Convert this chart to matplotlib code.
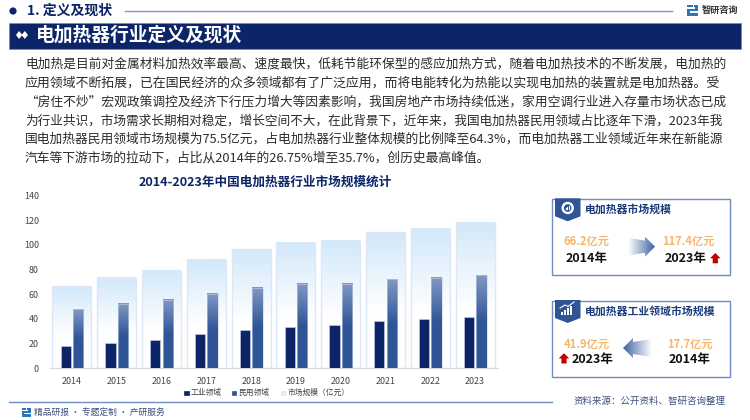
"""Electric heater industry slide: text block, market size chart, two callout cards."""

import numpy as np
import matplotlib
matplotlib.use('Agg')
import matplotlib.pyplot as plt
from matplotlib.patches import Rectangle, Polygon, Circle

plt.rcParams['font.family'] = ['Noto Sans CJK SC', 'DejaVu Sans']

NAVY = '#0B2568'
MID = '#2F5597'
EDGE = '#6F8DBE'
ORANGE = '#F9B66B'
RED = '#C00000'
TEXT = '#2B2B2B'

years = ['2014', '2015', '2016', '2017', '2018', '2019', '2020', '2021', '2022', '2023']
industrial = [17.7, 20.5, 23.2, 27.5, 31.3, 33.7, 34.8, 38.3, 39.9, 41.9]
civil = [48.0, 52.0, 55.5, 60.0, 65.0, 68.0, 68.6, 72.2, 73.0, 75.5]
market = [66.2, 72.9, 78.8, 87.7, 96.6, 101.7, 103.1, 110.3, 113.1, 117.4]
y_ticks = [0, 20, 40, 60, 80, 100, 120, 140]

body_lines = [
    '电加热是目前对金属材料加热效率最高、速度最快，低耗节能环保型的感应加热方式，随着电加热技术的不断发展，电加热的',
    '应用领域不断拓展，已在国民经济的众多领域都有了广泛应用，而将电能转化为热能以实现电加热的装置就是电加热器。受',
    '“房住不炒”宏观政策调控及经济下行压力增大等因素影响，我国房地产市场持续低迷，家用空调行业进入存量市场状态已成',
    '为行业共识，市场需求长期相对稳定，增长空间不大，在此背景下，近年来，我国电加热器民用领域占比逐年下滑，2023年我',
    '国电加热器民用领域市场规模为75.5亿元，占电加热器行业整体规模的比例降至64.3%，而电加热器工业领域近年来在新能源',
    '汽车等下游市场的拉动下，占比从2014年的26.75%增至35.7%，创历史最高峰值。',
]

fig = plt.figure(figsize=(7.5, 4.2), dpi=100, facecolor='white')

# full-figure overlay in pixel coordinates
bg = fig.add_axes([0, 0, 1, 1], zorder=0)
bg.set_xlim(0, 750)
bg.set_ylim(420, 0)
bg.axis('off')


def gradient(ax, x0, x1, y0, y1, c0, c1, horizontal=False, clip=None, z=2):
    """Linear colour ramp from c0 to c1, optionally clipped to a patch."""
    c0 = np.array(matplotlib.colors.to_rgb(c0))
    c1 = np.array(matplotlib.colors.to_rgb(c1))
    t = np.linspace(0, 1, 64)
    ramp = c0[None, :] * (1 - t[:, None]) + c1[None, :] * t[:, None]
    img = ramp[None, :, :] if horizontal else ramp[:, None, :]
    xl, yl = ax.get_xlim(), ax.get_ylim()
    im = ax.imshow(img, extent=(x0, x1, y1, y0), origin='upper', aspect='auto',
                   zorder=z, interpolation='bilinear')
    if clip is not None:
        im.set_clip_path(clip)
    ax.set_xlim(xl)
    ax.set_ylim(yl)
    return im


def logo(x, y, s):
    """Small square-spiral brand mark."""
    bg.add_patch(Rectangle((x, y), s, s, fc='#2E75B6', ec='none'))
    bg.add_patch(Rectangle((x, y + s * 0.2), s * 0.72, s * 0.16, fc='white', ec='none'))
    bg.add_patch(Rectangle((x + s * 0.28, y + s * 0.56), s * 0.72, s * 0.16, fc='white', ec='none'))
    bg.add_patch(Rectangle((x + s * 0.5, y), s * 0.12, s * 0.2, fc='white', ec='none'))


# ---- header ----
bg.add_patch(Circle((13, 11), 3.6, fc=NAVY, ec='none'))
bg.text(27, 10.5, '1. 定义及现状', fontsize=10, fontweight='bold', color=NAVY, va='center')
bg.plot([125, 672], [10.5, 10.5], color='#8496BE', lw=1.0)
logo(687, 5, 11)
bg.text(702, 10.5, '智研咨询', fontsize=6.6, fontweight='bold', color='#333333', va='center')

bg.add_patch(Rectangle((9, 22.5), 732, 26.5, fc=NAVY, ec='#6F8DBE', lw=0.5))
bg.add_patch(Polygon([(16, 35), (19, 31), (22.5, 35), (19, 39)], fc='white', ec='none'))
bg.add_patch(Polygon([(21.5, 35), (24.8, 31), (28, 35), (24.8, 39)], fc='white', ec='none'))
bg.text(36, 35, '电加热器行业定义及现状', fontsize=13.5, fontweight='bold', color='white', va='center')

# ---- body text ----
# the original is justified: fit each full line between x=25 and x=723
renderer = fig.canvas.get_renderer()
for i, s in enumerate(body_lines):
    t = bg.text(25, 64.3 + i * 18.8, s, fontsize=9.2, color=TEXT, va='center')
    if i < len(body_lines) - 1:
        w = t.get_window_extent(renderer).width
        t.set_fontsize(9.2 * 698 / w)

# ---- footer ----
bg.plot([9, 552], [402.3, 402.3], color=EDGE, lw=1.0)
logo(22, 408, 8.5)
bg.text(34, 412.8, '精品研报 · 专题定制 · 产研服务', fontsize=6.3, color='#3C4F7C', va='center')
bg.text(573, 401.7, '资料来源：公开资料、智研咨询整理', fontsize=6.8, color='#3C4F7C', va='center')

# ---- chart ----
ax = fig.add_axes([50 / 750, 1 - 368.3 / 420, 448 / 750, 173 / 420], zorder=1)
ax.patch.set_alpha(0)
x = np.arange(len(years))
ax.set_xlim(-0.49, 9.51)
ax.set_ylim(0, 140)

bars_m = ax.bar(x, market, width=0.87, color='none', edgecolor='#DCE8F8', lw=1.0, zorder=3)
bars_i = ax.bar(x - 0.14, industrial, width=0.23, color=NAVY, edgecolor='#C9D3E6', lw=0.4, zorder=4)
bars_c = ax.bar(x + 0.14, civil, width=0.23, color='none', edgecolor='#C9D3E6', lw=0.4, zorder=6)

for b in bars_m:
    h = b.get_height()
    # pale blue fades out to white a little past the middle
    gradient(ax, b.get_x(), b.get_x() + b.get_width(), h, h * 0.4, '#D2E8FA', '#FFFFFF', z=2)
for b in bars_c:
    h = b.get_height()
    gradient(ax, b.get_x(), b.get_x() + b.get_width(), h, h * 0.5, '#8199C3', MID, z=5)
    gradient(ax, b.get_x(), b.get_x() + b.get_width(), h * 0.5, 0, MID, MID, z=5)

for s in ['top', 'left', 'right']:
    ax.spines[s].set_visible(False)
ax.spines['bottom'].set_color('#D9D9D9')
ax.spines['bottom'].set_linewidth(0.8)
ax.set_xticks(x, years)
ax.set_yticks(y_ticks)
ax.tick_params(length=0, labelsize=6.4, labelcolor='#444444', pad=6)
ax.tick_params(axis='y', pad=8)

bg.text(265, 182, '2014-2023年中国电加热器行业市场规模统计', fontsize=9.1, fontweight='bold',
        color=NAVY, ha='center', va='center')

# legend
for lx, fc, ec, label in [(184, NAVY, NAVY, '工业领域'), (231.7, MID, MID, '民用领域'),
                          (280.7, '#E8F2FC', '#CFE0F5', '市场规模（亿元）')]:
    bg.add_patch(Rectangle((lx, 390.7), 4.6, 4.6, fc=fc, ec=ec, lw=0.5))
    bg.text(lx + 6.5, 393, label, fontsize=5.6, color='#444444', va='center')


# ---- right cards ----
def card(y0, y1, title):
    bg.add_patch(Rectangle((552, y0), 178, y1 - y0, fc='white', ec=EDGE, lw=1.0))
    yb = y0 - 1
    bg.add_patch(Polygon([(555, yb), (580.5, yb), (580.5, yb + 18), (567.7, yb + 23), (555, yb + 18)],
                         fc=MID, ec='none'))
    bg.text(585, y0 + 10.3, title, fontsize=7.8, fontweight='bold', color='#1B3A7A', va='center')


def up_arrow(cx, cy):
    bg.add_patch(Polygon([(cx - 5.3, cy), (cx, cy - 5.3), (cx + 5.3, cy), (cx + 2.6, cy),
                          (cx + 2.6, cy + 5), (cx - 2.6, cy + 5), (cx - 2.6, cy)],
                         fc=RED, ec='none'))


def big_arrow(x_tail, x_tip, cy):
    """Block arrow fading from white at the tail to blue at the tip."""
    s = 1 if x_tip > x_tail else -1
    neck = x_tip - s * 10
    pts = [(x_tail, cy - 9), (neck, cy - 6), (neck, cy - 10), (x_tip, cy),
           (neck, cy + 10), (neck, cy + 6), (x_tail, cy + 9)]
    poly = Polygon(pts, fc='none', ec='none')
    bg.add_patch(poly)
    x0, x1 = min(x_tail, x_tip), max(x_tail, x_tip)
    c0, c1 = ('#FFFFFF', '#3F62A0') if s > 0 else ('#3F62A0', '#FFFFFF')
    gradient(bg, x0, x1, cy - 10, cy + 10, c0, c1, horizontal=True, clip=poly, z=3)


card(199.3, 274.7, '电加热器市场规模')
# round icon with small bars
bg.add_patch(Circle((567.7, 208), 6.2, fc='white', ec='none'))
bg.add_patch(Circle((567.7, 208), 3.8, fc=MID, ec='none'))
for bx, bh in [(565.6, 2), (567.2, 3.2), (568.8, 4.2)]:
    bg.add_patch(Rectangle((bx, 210 - bh), 1.1, bh, fc='white', ec='none'))

bg.text(586.5, 241.7, '66.2亿元', fontsize=8.1, fontweight='bold', color=ORANGE, ha='center', va='center')
bg.text(586.7, 258.3, '2014年', fontsize=9, fontweight='bold', color='#111111', ha='center', va='center')
big_arrow(628, 655, 246.7)
bg.text(688.3, 241.7, '117.4亿元', fontsize=8.1, fontweight='bold', color=ORANGE, ha='center', va='center')
bg.text(686, 258.3, '2023年', fontsize=9, fontweight='bold', color='#111111', ha='center', va='center')
up_arrow(715.3, 258.3)

card(301, 376.7, '电加热器工业领域市场规模')
# rising bars with an arrow
for bx, bh in [(561, 3), (564, 5), (567, 7), (570, 9)]:
    bg.add_patch(Rectangle((bx, 315 - bh), 2, bh, fc='white', ec='none'))
bg.plot([560, 565, 568, 574], [308, 305, 306.5, 302], color='white', lw=0.8)

bg.text(586.5, 344, '41.9亿元', fontsize=8.1, fontweight='bold', color=ORANGE, ha='center', va='center')
bg.text(592.3, 360, '2023年', fontsize=9, fontweight='bold', color='#111111', ha='center', va='center')
up_arrow(564, 358.5)
big_arrow(651.7, 623, 348)
bg.text(689.5, 344, '17.7亿元', fontsize=8.1, fontweight='bold', color=ORANGE, ha='center', va='center')
bg.text(690, 360, '2014年', fontsize=9, fontweight='bold', color='#111111', ha='center', va='center')

fig.savefig('out.png', dpi=100)
